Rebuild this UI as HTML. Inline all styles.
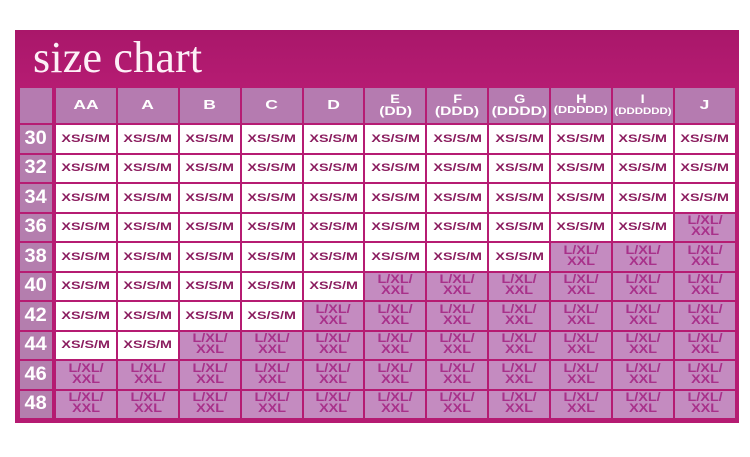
<!DOCTYPE html>
<html><head><meta charset="utf-8">
<style>
html,body{margin:0;padding:0;background:#fff;width:750px;height:457px;overflow:hidden;}
.frame{position:absolute;left:15px;top:30px;width:724px;height:393px;background:linear-gradient(180deg,#a9176a 0%,#b61c73 15%,#b51b72 100%);}
.title{position:absolute;left:33px;top:36px;font-family:"Liberation Serif",serif;font-size:44px;line-height:44px;color:#fdf0f7;white-space:nowrap;letter-spacing:0.2px;}
.grid{position:absolute;left:20px;top:88px;display:grid;grid-template-columns:34px repeat(11,59.9px);grid-template-rows:35px repeat(10,27.5px);column-gap:2px;row-gap:2px;}
.grid>div{display:flex;align-items:center;justify-content:center;font-family:"Liberation Sans",sans-serif;font-weight:bold;text-align:center;overflow:visible;}
.grid span{display:inline-block;transform:scaleX(1.3);white-space:nowrap;}
.h{background:#b57bb0;color:#fff;flex-direction:column;}
.h .t{font-size:12.5px;line-height:13px;transform:scaleX(1.4);}
.h .s{font-size:12px;line-height:11px;transform:scaleX(1.2);}
.h .p{font-size:12px;line-height:12px;}
.c0{background:#b57bb0;width:32px;}
.n{background:#b47eae;color:#fff;font-size:19px;width:32px;}
.n span{transform:scaleX(1.05);}
.w{background:#fff;color:#8b1d5f;font-size:11px;}
.l{background:#c48bc0;color:#a8318a;font-size:11.5px;line-height:11px;}
.l span{transform:scaleX(1.25);}
</style></head><body>
<div class="frame"></div>
<div class="title">size chart</div>
<div class="grid">
<div class="c0"></div>
<div class="h"><span class="t">AA</span></div>
<div class="h"><span class="t">A</span></div>
<div class="h"><span class="t">B</span></div>
<div class="h"><span class="t">C</span></div>
<div class="h"><span class="t">D</span></div>
<div class="h"><span class="s">E</span><span class="p">(DD)</span></div>
<div class="h"><span class="s">F</span><span class="p">(DDD)</span></div>
<div class="h"><span class="s">G</span><span class="p">(DDDD)</span></div>
<div class="h"><span class="s">H</span><span class="p" style="font-size:9.7px">(DDDDD)</span></div>
<div class="h"><span class="s">I</span><span class="p" style="font-size:8.8px">(DDDDDD)</span></div>
<div class="h"><span class="t">J</span></div>

<div class="n"><span>30</span></div>
<div class="w"><span>XS/S/M</span></div><div class="w"><span>XS/S/M</span></div><div class="w"><span>XS/S/M</span></div><div class="w"><span>XS/S/M</span></div><div class="w"><span>XS/S/M</span></div><div class="w"><span>XS/S/M</span></div><div class="w"><span>XS/S/M</span></div><div class="w"><span>XS/S/M</span></div><div class="w"><span>XS/S/M</span></div><div class="w"><span>XS/S/M</span></div><div class="w"><span>XS/S/M</span></div>

<div class="n"><span>32</span></div>
<div class="w"><span>XS/S/M</span></div><div class="w"><span>XS/S/M</span></div><div class="w"><span>XS/S/M</span></div><div class="w"><span>XS/S/M</span></div><div class="w"><span>XS/S/M</span></div><div class="w"><span>XS/S/M</span></div><div class="w"><span>XS/S/M</span></div><div class="w"><span>XS/S/M</span></div><div class="w"><span>XS/S/M</span></div><div class="w"><span>XS/S/M</span></div><div class="w"><span>XS/S/M</span></div>

<div class="n"><span>34</span></div>
<div class="w"><span>XS/S/M</span></div><div class="w"><span>XS/S/M</span></div><div class="w"><span>XS/S/M</span></div><div class="w"><span>XS/S/M</span></div><div class="w"><span>XS/S/M</span></div><div class="w"><span>XS/S/M</span></div><div class="w"><span>XS/S/M</span></div><div class="w"><span>XS/S/M</span></div><div class="w"><span>XS/S/M</span></div><div class="w"><span>XS/S/M</span></div><div class="w"><span>XS/S/M</span></div>

<div class="n"><span>36</span></div>
<div class="w"><span>XS/S/M</span></div><div class="w"><span>XS/S/M</span></div><div class="w"><span>XS/S/M</span></div><div class="w"><span>XS/S/M</span></div><div class="w"><span>XS/S/M</span></div><div class="w"><span>XS/S/M</span></div><div class="w"><span>XS/S/M</span></div><div class="w"><span>XS/S/M</span></div><div class="w"><span>XS/S/M</span></div><div class="w"><span>XS/S/M</span></div><div class="l"><span>L/XL/<br>XXL</span></div>

<div class="n"><span>38</span></div>
<div class="w"><span>XS/S/M</span></div><div class="w"><span>XS/S/M</span></div><div class="w"><span>XS/S/M</span></div><div class="w"><span>XS/S/M</span></div><div class="w"><span>XS/S/M</span></div><div class="w"><span>XS/S/M</span></div><div class="w"><span>XS/S/M</span></div><div class="w"><span>XS/S/M</span></div><div class="l"><span>L/XL/<br>XXL</span></div><div class="l"><span>L/XL/<br>XXL</span></div><div class="l"><span>L/XL/<br>XXL</span></div>

<div class="n"><span>40</span></div>
<div class="w"><span>XS/S/M</span></div><div class="w"><span>XS/S/M</span></div><div class="w"><span>XS/S/M</span></div><div class="w"><span>XS/S/M</span></div><div class="w"><span>XS/S/M</span></div><div class="l"><span>L/XL/<br>XXL</span></div><div class="l"><span>L/XL/<br>XXL</span></div><div class="l"><span>L/XL/<br>XXL</span></div><div class="l"><span>L/XL/<br>XXL</span></div><div class="l"><span>L/XL/<br>XXL</span></div><div class="l"><span>L/XL/<br>XXL</span></div>

<div class="n"><span>42</span></div>
<div class="w"><span>XS/S/M</span></div><div class="w"><span>XS/S/M</span></div><div class="w"><span>XS/S/M</span></div><div class="w"><span>XS/S/M</span></div><div class="l"><span>L/XL/<br>XXL</span></div><div class="l"><span>L/XL/<br>XXL</span></div><div class="l"><span>L/XL/<br>XXL</span></div><div class="l"><span>L/XL/<br>XXL</span></div><div class="l"><span>L/XL/<br>XXL</span></div><div class="l"><span>L/XL/<br>XXL</span></div><div class="l"><span>L/XL/<br>XXL</span></div>

<div class="n"><span>44</span></div>
<div class="w"><span>XS/S/M</span></div><div class="w"><span>XS/S/M</span></div><div class="l"><span>L/XL/<br>XXL</span></div><div class="l"><span>L/XL/<br>XXL</span></div><div class="l"><span>L/XL/<br>XXL</span></div><div class="l"><span>L/XL/<br>XXL</span></div><div class="l"><span>L/XL/<br>XXL</span></div><div class="l"><span>L/XL/<br>XXL</span></div><div class="l"><span>L/XL/<br>XXL</span></div><div class="l"><span>L/XL/<br>XXL</span></div><div class="l"><span>L/XL/<br>XXL</span></div>

<div class="n"><span>46</span></div>
<div class="l"><span>L/XL/<br>XXL</span></div><div class="l"><span>L/XL/<br>XXL</span></div><div class="l"><span>L/XL/<br>XXL</span></div><div class="l"><span>L/XL/<br>XXL</span></div><div class="l"><span>L/XL/<br>XXL</span></div><div class="l"><span>L/XL/<br>XXL</span></div><div class="l"><span>L/XL/<br>XXL</span></div><div class="l"><span>L/XL/<br>XXL</span></div><div class="l"><span>L/XL/<br>XXL</span></div><div class="l"><span>L/XL/<br>XXL</span></div><div class="l"><span>L/XL/<br>XXL</span></div>

<div class="n"><span>48</span></div>
<div class="l"><span>L/XL/<br>XXL</span></div><div class="l"><span>L/XL/<br>XXL</span></div><div class="l"><span>L/XL/<br>XXL</span></div><div class="l"><span>L/XL/<br>XXL</span></div><div class="l"><span>L/XL/<br>XXL</span></div><div class="l"><span>L/XL/<br>XXL</span></div><div class="l"><span>L/XL/<br>XXL</span></div><div class="l"><span>L/XL/<br>XXL</span></div><div class="l"><span>L/XL/<br>XXL</span></div><div class="l"><span>L/XL/<br>XXL</span></div><div class="l"><span>L/XL/<br>XXL</span></div>
</div>
</body></html>
